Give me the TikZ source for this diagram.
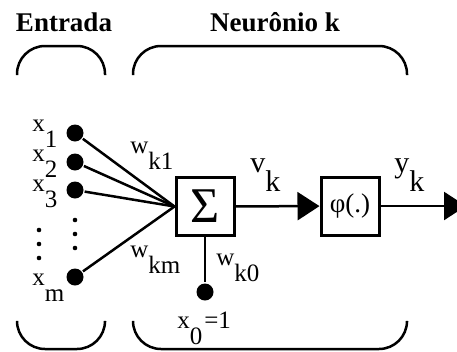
\documentclass[tikz,border=0pt]{standalone}
\usepackage{fontspec}
\setmainfont{Liberation Serif}
\usetikzlibrary{arrows.meta}
\tikzset{>={Triangle[length=22pt,width=28pt]}}
\tikzset{
    titulo/.style={inner sep=0pt, anchor=base, font=\bfseries\fontsize{27}{27}\selectfont},
    rotulo/.style={inner sep=0pt, anchor=base west, font=\fontsize{25}{25}\selectfont},
    grande/.style={inner sep=0pt, anchor=base west, font=\fontsize{30}{30}\selectfont},
    bloco/.style={draw, line width=3pt, minimum size=58pt, inner sep=0pt},
    ponto/.style={circle, fill, minimum size=17pt, inner sep=0pt},
    chave/.style={line width=2.5pt, rounded corners=28pt}
}
\newcommand{\ind}[2]{#1\raisebox{-0.65em}{#2}}

\begin{document}
\begin{tikzpicture}[x=1pt, y=-1pt, line width=2.5pt]
    \useasboundingbox (0,0) rectangle (457,351);
    \node[titulo] (entrada) at (64,31) {Entrada};
    \node[titulo] (neuronio) at (275,31) {Neurônio k};
    \draw[chave] (17,75) -- (17,46) -- (105,46) -- (105,75);
    \draw[chave] (133,75) -- (133,46) -- (407,46) -- (407,75);
    \draw[chave] (17,322) -- (17,349) -- (105,349) -- (105,322);
    \draw[chave] (133,322) -- (133,349) -- (407,349) -- (407,322);
    \node[bloco, font=\fontsize{50}{50}\selectfont] (soma) at (205,206.5) {Σ};
    \node[bloco, font=\fontsize{27}{27}\selectfont] (phi) at (350,206) {φ(.)};
    \foreach \n/\y/\b in {1/133/131, 2/162/161, 3/190/191, m/277/285} {
        \node[ponto] (x\n) at (75,\y) {};
        \node[rotulo] (lx\n) at (31,\b) {\ind{x}{\n}};
        \draw (x\n) -- (soma.west);
    }
    \foreach \y in {220,234,248} \fill (75,\y) circle (2.3pt);
    \foreach \y in {230,244,258} \fill (39,\y) circle (2.3pt);
    \node[rotulo] (wk1) at (129,153) {\ind{w}{k1}};
    \node[rotulo] (wkm) at (129,257) {\ind{w}{km}};
    \node[ponto] (x0) at (205,292) {};
    \draw (soma.south) -- (x0);
    \node[rotulo] (wk0) at (215,265) {\ind{w}{k0}};
    \node[rotulo] (lx0) at (176,328) {\ind{x}{0}\kern2pt=1};
    \coordinate (saida) at (466,206);
    \draw[->] (soma) -- (phi);
    \draw[->] (phi) -- (saida);
    \node[grande] (vk) at (249,172) {\ind{v}{k}};
    \node[grande] (yk) at (393,172) {\ind{y}{k}};
\end{tikzpicture}
\end{document}
